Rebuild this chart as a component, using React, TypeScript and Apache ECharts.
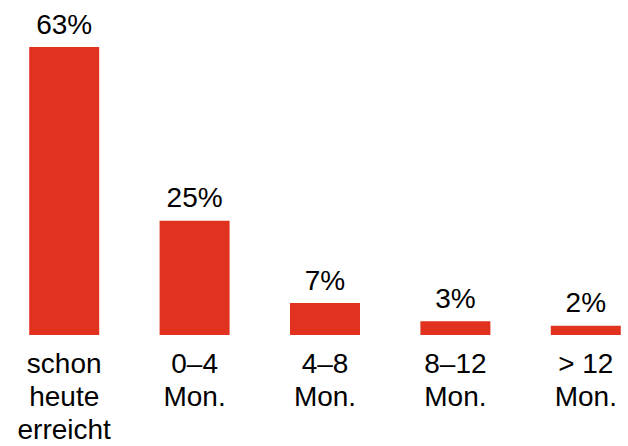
import React, { useEffect, useRef } from "react";
import * as echarts from "echarts";

// Time until the goal is reached (share of respondents, %)
const categories = ["schon\nheute\nerreicht", "0–4\nMon.", "4–8\nMon.", "8–12\nMon.", "> 12\nMon."];
const values = [63, 25, 7, 3, 2];

const RED = "#e0321f";
const FONT = "'Liberation Sans', Arial, Helvetica, sans-serif";

export default function App() {
  const ref = useRef<HTMLDivElement>(null);

  useEffect(() => {
    if (!ref.current) return;
    const chart = echarts.init(ref.current, null, { renderer: "svg" });
    chart.setOption({
      animation: false,
      backgroundColor: "#ffffff",
      grid: { left: 0, right: 0, top: 47, bottom: 110, containLabel: false },
      xAxis: {
        type: "category",
        data: categories,
        axisLine: { show: false },
        axisTick: { show: false },
        axisLabel: {
          interval: 0,
          margin: 12,
          color: "#000",
          fontFamily: FONT,
          fontSize: 28,
          lineHeight: 33,
          verticalAlign: "top",
        },
      },
      yAxis: {
        type: "value",
        min: 0,
        max: 63,
        show: false,
        splitLine: { show: false },
      },
      series: [
        {
          type: "bar",
          data: values,
          barWidth: 70,
          itemStyle: { color: RED },
          label: {
            show: true,
            position: "top",
            distance: 9,
            formatter: "{c}%",
            color: "#000",
            fontFamily: FONT,
            fontSize: 28,
          },
        },
      ],
    });
    return () => chart.dispose();
  }, []);

  // The plot is wider than the frame; the last category runs past the right edge.
  return (
    <div
      style={{
        position: "absolute",
        left: 0,
        top: 0,
        width: 628,
        height: 446,
        overflow: "hidden",
        background: "#fff",
      }}
    >
      <div
        ref={ref}
        style={{ position: "absolute", left: -1, top: 0, width: 652, height: 446 }}
      />
    </div>
  );
}
